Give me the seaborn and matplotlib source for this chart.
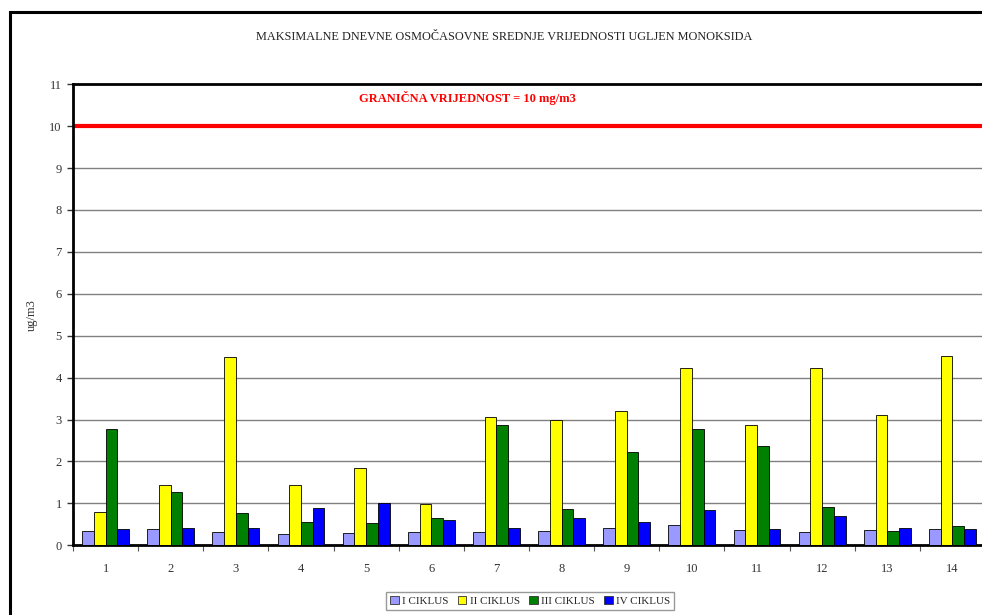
import matplotlib
matplotlib.use("Agg")
import matplotlib.pyplot as plt
import seaborn as sns
import pandas as pd
from matplotlib.patches import Rectangle

# maksimalne dnevne osmocasovne srednje vrijednosti CO po ciklusima
days = [str(i) for i in range(1, 15)]
ciklus_1 = [0.34, 0.38, 0.32, 0.27, 0.30, 0.32, 0.32, 0.34, 0.41, 0.49, 0.37, 0.31, 0.37, 0.39]
ciklus_2 = [0.80, 1.43, 4.49, 1.43, 1.84, 0.99, 3.05, 2.99, 3.21, 4.22, 2.87, 4.22, 3.11, 4.52]
ciklus_3 = [2.78, 1.26, 0.77, 0.55, 0.54, 0.66, 2.88, 0.86, 2.23, 2.78, 2.36, 0.91, 0.34, 0.46]
ciklus_4 = [0.38, 0.41, 0.41, 0.88, 1.00, 0.61, 0.41, 0.66, 0.55, 0.84, 0.39, 0.69, 0.41, 0.39]
series = ["I CIKLUS", "II CIKLUS", "III CIKLUS", "IV CIKLUS"]
limit = 10

df = pd.DataFrame({
    "dan": days * 4,
    "vrijednost": ciklus_1 + ciklus_2 + ciklus_3 + ciklus_4,
    "ciklus": [s for s in series for _ in days],
})

sns.set_style("white")
plt.rcParams["font.family"] = ["Liberation Serif", "DejaVu Serif"]

fig = plt.figure(figsize=(9.82, 6.15), dpi=100)
ax = fig.add_axes([73 / 982, 1 - 545.2 / 615, 912 / 982, (545.2 - 84.3) / 615])

# outer chart frame (cut off on the right like the original)
fig.patches.append(Rectangle((10 / 982, -0.1), 1.2, 1 - 12 / 615 + 0.1,
                             transform=fig.transFigure, fill=False,
                             edgecolor="black", linewidth=2.2))

palette = ["#9999FF", "#FFFF00", "#008000", "#0000FF"]
sns.barplot(data=df, x="dan", y="vrijednost", hue="ciklus", palette=palette,
            saturation=1, width=0.72, edgecolor="black", linewidth=0.6, ax=ax,
            legend=False, zorder=3)

for v in range(1, 12):
    if v != limit:
        ax.axhline(v, color="#808080", linewidth=1, zorder=1)
ax.axhline(limit, color="#FF0000", linewidth=3, zorder=2)

ax.text(5.55, 10.67, "GRANIČNA VRIJEDNOST = 10 mg/m3", color="#FF0000",
        fontsize=9, fontweight="bold", ha="center", va="center")

ax.set_ylim(0, 11)
ax.set_xlim(-0.5, 13.5)
ax.set_yticks(range(0, 12))
ax.tick_params(axis="y", length=4, width=1, direction="out", left=True,
               labelsize=9, colors="#333333", pad=4)
ax.tick_params(axis="x", which="major", length=0, labelsize=9,
               colors="#333333", pad=13)
ax.set_xticks([i + 0.5 for i in range(-1, 14)], minor=True)
ax.tick_params(axis="x", which="minor", length=4, width=0.8, bottom=True,
               direction="out", color="#555555")
for s in ["left", "bottom", "top"]:
    ax.spines[s].set_color("black")
    ax.spines[s].set_linewidth(2)
ax.spines["right"].set_visible(False)
ax.set_xlabel("")
ax.set_ylabel("ug/m3", fontsize=9, color="#333333", labelpad=8)

fig.text(504 / 982, 1 - 37 / 615,
         "MAKSIMALNE DNEVNE OSMOČASOVNE SREDNJE VRIJEDNOSTI UGLJEN MONOKSIDA",
         fontsize=8.8, ha="center", va="center", color="#222222")

handles = [Rectangle((0, 0), 1, 1, facecolor=c, edgecolor="#333333", linewidth=0.6)
           for c in palette]
fig.legend(handles, series, loc="center", bbox_to_anchor=(530 / 982, 1 - 601 / 615),
           ncol=4, fontsize=8, frameon=True, edgecolor="#808080", fancybox=False,
           handlelength=0.8, handleheight=0.8, handletextpad=0.3,
           columnspacing=0.8, borderpad=0.35)

fig.savefig("out.png", dpi=100)
